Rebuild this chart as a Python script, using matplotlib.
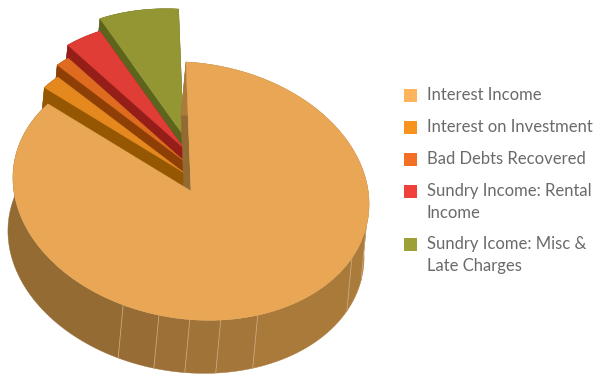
# -*- coding: utf-8 -*-
"""
Other income split drawn as an extruded 3D pie with pulled-out small slices.
"""

import numpy as np
import matplotlib
matplotlib.use('Agg')
import matplotlib.pyplot as plt
from matplotlib.patches import Polygon, Rectangle

categories = [
    'Interest Income',
    'Interest on Investment',
    'Bad Debts Recovered',
    'Sundry Income: Rental\nIncome',
    'Sundry Icome: Misc &\nLate Charges',
]
values = [85.6, 1.9, 1.4, 3.6, 7.5]

legend_colors = ['#FDB45C', '#F8931F', '#F26F25', '#F0403B', '#9DA035']
top_colors = ['#E9A756', '#E5881E', '#DE6B20', '#E03D36', '#939633']
wall_colors = ['#9C7036', '#955702', '#8E3F06', '#951F18', '#5D651D']

# pixel offset of each slice from the pie centre, pulled slices are a bit smaller
pull_offsets = [(0, 0), (-6.5, -18), (-7, -30), (-7.5, -43), (-7.5, -55.5)]
slice_radius = [1.0, 0.98, 0.98, 0.98, 0.98]

# seams on the big slice's rim (degrees clockwise from the top) and rim shades
rim_seams = [0, 102, 117, 159.6, 172, 182, 192, 204, 308]
rim_shades = ['#AB7B3C', '#AB7B3C', '#AA7A3B', '#A57639', '#A07338',
              '#9C7036', '#986D35', '#956B34']

center = np.array([191.0, 191.0])
u_axis = np.array([178.0, 9.5])    # screen vector of the pie's x axis
v_axis = np.array([-5.0, -129.0])  # screen vector of the pie's y axis
depth = np.array([-5.0, 53.0])     # extrusion direction


def rim_points(start, end, offset=(0, 0), radius=1.0, n=80):
    """Points on the rim between two clockwise angles, measured from the top."""
    t = np.radians(np.linspace(start, end, n))
    pts = center + radius * (np.outer(np.sin(t), u_axis) + np.outer(np.cos(t), v_axis))
    return pts + np.array(offset)


def extrude_face(ax, pts, color, zorder):
    """Fill the band swept by a polyline along the depth direction."""
    band = np.vstack([pts, (pts + depth)[::-1]])
    ax.add_patch(Polygon(band, closed=True, facecolor=color, edgecolor=color,
                         linewidth=0.3, zorder=zorder))


fig = plt.figure(figsize=(5.97, 3.74), dpi=100)
ax = fig.add_axes([0, 0, 1, 1])
ax.set_xlim(0, 597)
ax.set_ylim(374, 0)
ax.axis('off')

shares = np.array(values) / np.sum(values) * 360.0
ends = np.cumsum(shares)
starts = ends - shares

# small slices go first so the big one overlaps their lower parts
for i in [4, 3, 2, 1, 0]:
    z = 10 + (4 - i) * 3
    offset = pull_offsets[i]
    apex = center + np.array(offset)
    rim = rim_points(starts[i], ends[i], offset, slice_radius[i])

    if i == 0:
        # start-side cut face, then the shaded rim pieces with thin seams
        extrude_face(ax, np.vstack([apex, rim[0]]), '#946A33', z)
        for j in range(len(rim_shades)):
            seg = rim_points(rim_seams[j], rim_seams[j + 1])
            extrude_face(ax, seg, rim_shades[j], z)
        for seam in rim_seams[1:-1]:
            p = rim_points(seam, seam, n=1)[0]
            ax.plot([p[0], p[0] + depth[0]], [p[1], p[1] + depth[1]],
                    color='#C9A77C', linewidth=0.6, zorder=z + 0.5)
    else:
        extrude_face(ax, np.vstack([apex, rim[0]]), wall_colors[i], z)
        extrude_face(ax, rim, wall_colors[i], z)
        extrude_face(ax, np.vstack([apex, rim[-1]]), wall_colors[i], z)

    ax.add_patch(Polygon(np.vstack([apex, rim]), closed=True,
                         facecolor=top_colors[i], edgecolor=top_colors[i],
                         linewidth=0.3, zorder=z + 1))

# legend on the right, two-line labels take an extra row
y = 95.5
for name, color in zip(categories, legend_colors):
    ax.add_patch(Rectangle((404, y - 6.5), 13, 13, facecolor=color,
                           edgecolor='none', zorder=30))
    for k, line in enumerate(name.split('\n')):
        ax.text(427, y - 0.5 + k * 22, line, fontsize=12, color='#6A6A6A',
                family='Lato', ha='left', va='center', zorder=30)
    y += 31.9 + 21.5 * name.count('\n')

plt.savefig('out.png', dpi=100)
